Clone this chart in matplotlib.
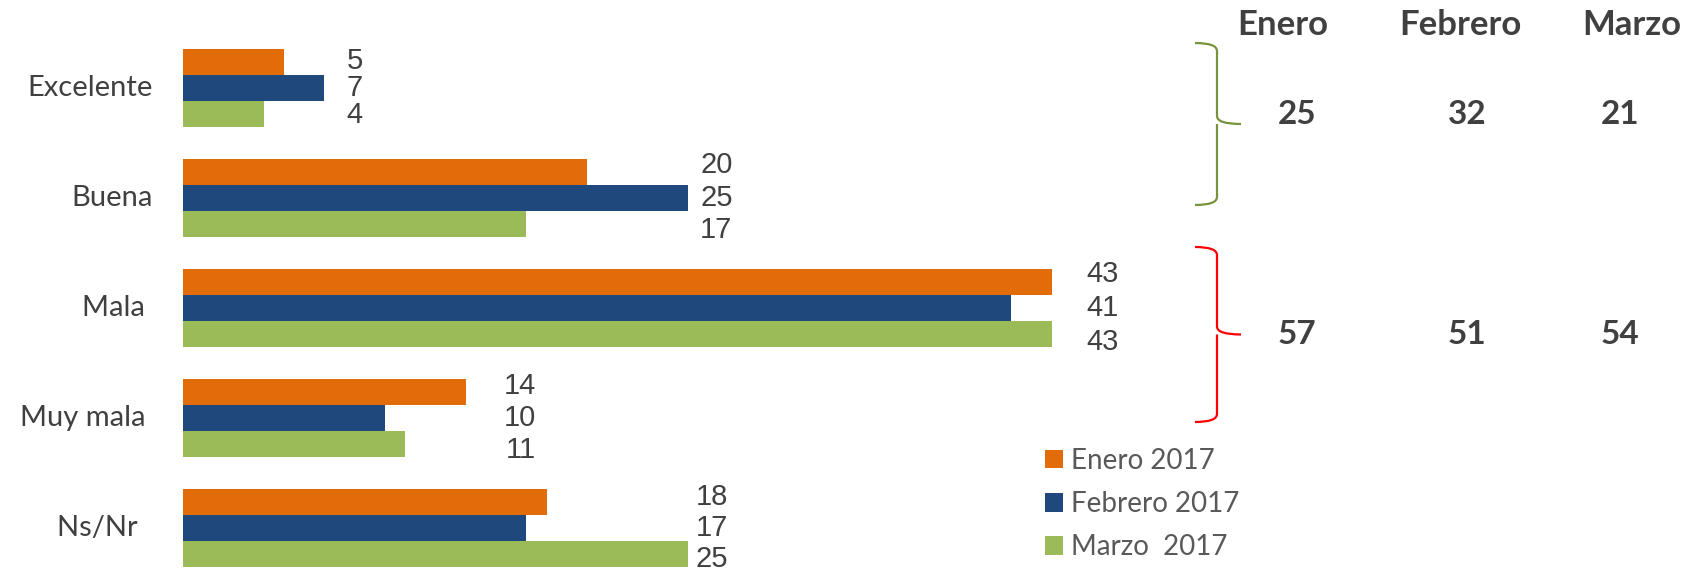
import numpy as np
import matplotlib.pyplot as plt
from matplotlib.path import Path
from matplotlib.patches import PathPatch

plt.rcParams['font.family'] = ['Lato', 'DejaVu Sans']

categories = ["Excelente", "Buena", "Mala ", "Muy mala ", "Ns/Nr  "]
months = ["Enero", "Febrero", "Marzo"]
series_names = ["Enero 2017", "Febrero 2017", "Marzo  2017"]
enero = [5, 20, 43, 14, 18]
febrero = [7, 25, 41, 10, 17]
marzo = [4, 17, 43, 11, 25]
colors = ['#E36C0A', '#1F497D', '#9BBB59']

# positive = Excelente + Buena, negative = Mala + Muy mala
series = [enero, febrero, marzo]
positive = [s[0] + s[1] for s in series]
negative = [s[2] + s[3] for s in series]

# gap between longest bar and the label column, per group
label_pad = [1.5, 1.4, 2.5, 2.7, 1.2]
label_step = [1.05, 1.25, 1.3, 1.25, 1.2]

W, H = 1690, 570
fig = plt.figure(figsize=(W / 100, H / 100), dpi=100)

ax = fig.add_axes([183 / W, 0, (1180 - 183) / W, 1])
ax.set_xlim(0, (1180 - 183) / 20.2)
ax.set_ylim(4 + 42 / 110, -88 / 110)
ax.axis('off')

h = 26 / 110
y = np.arange(len(categories))
bars = []
for k, (vals, c, name) in enumerate(zip(series, colors, series_names)):
    b = ax.barh(y + (k - 1) * h, vals, height=h, color=c, label=name)
    bars.append(b)

gmax = np.max(np.array(series), axis=0)
for k, vals in enumerate(series):
    for i, v in enumerate(vals):
        ax.text(gmax[i] + label_pad[i], i + (k - 1) * h * label_step[i], str(v),
                ha='center', va='center', fontsize=21, color='#404040',
                family=['Liberation Sans'])

for i, cat in enumerate(categories):
    ax.text(-1.5, i, cat, ha='right', va='center', fontsize=21, color='#404040')

leg = fig.legend(handles=bars, labels=series_names, loc='upper left',
                 bbox_to_anchor=(1031 / W, 1 - 434 / H), frameon=False,
                 fontsize=20, handlelength=0.65, handleheight=0.65,
                 handletextpad=0.3, labelspacing=0.62, borderpad=0)
for t in leg.get_texts():
    t.set_color('#595959')

# overlay in pixel coordinates for the summary table
ov = fig.add_axes([0, 0, 1, 1])
ov.set_xlim(0, W)
ov.set_ylim(H, 0)
ov.axis('off')
ov.patch.set_alpha(0)


def brace(y0, y1, color):
    xm, xe, xt = 1217, 1195, 1241
    ym = (y0 + y1) / 2
    verts = [(xe, y0), (xm, y0), (xm, y0 + 8), (xm, ym - 8), (xm, ym), (xt, ym),
             (xm, ym), (xm, ym + 8), (xm, y1 - 8), (xm, y1), (xe, y1)]
    codes = [Path.MOVETO, Path.CURVE3, Path.CURVE3, Path.LINETO, Path.CURVE3, Path.CURVE3,
             Path.MOVETO, Path.CURVE3, Path.LINETO, Path.CURVE3, Path.CURVE3]
    ov.add_patch(PathPatch(Path(verts, codes), fill=False, edgecolor=color, lw=1.6))


brace(43, 205, '#77933C')
brace(247, 422, '#FF0000')

head_x = [1283, 1460, 1632]
num_x = [1297, 1467, 1620]
for m, hx, nx, p, n in zip(months, head_x, num_x, positive, negative):
    ov.text(hx, 25, m, ha='center', va='center', fontsize=25, fontweight='bold', color='#404040')
    ov.text(nx, 114, str(p), ha='center', va='center', fontsize=24, fontweight='bold', color='#404040')
    ov.text(nx, 334, str(n), ha='center', va='center', fontsize=24, fontweight='bold', color='#404040')

fig.savefig("out.png", dpi=100)
